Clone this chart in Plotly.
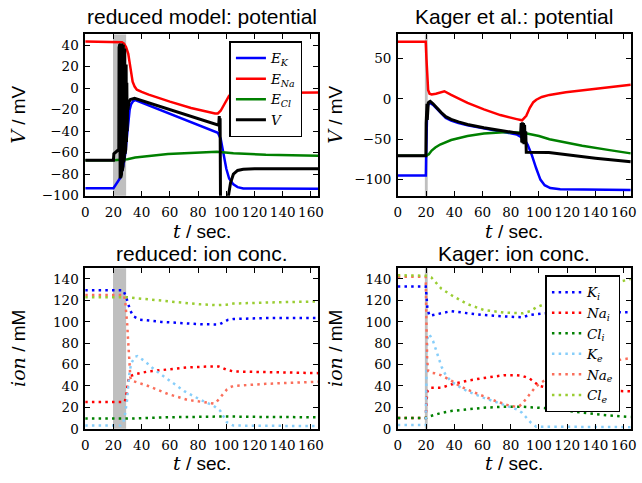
import plotly.graph_objects as go

# ---------------- data: reduced model potential (top-left) ----------------
rm_EK_t = [0, 20, 25, 27, 28.5, 29.5, 30.5, 31.5, 32.5, 34, 35.5, 94, 96, 98, 100, 102, 105, 108, 112, 165]
rm_EK = [-93, -93, -83, -72, -60, -45, -30, -20, -15, -12, -11, -41.5, -47, -60, -75, -84, -89.5, -92, -93.3, -93.5]

rm_ENa_t = [0, 23.8, 26, 27.5, 29, 30.5, 31.5, 32.5, 33.6, 35, 36.6, 40, 45, 60, 75, 92, 94, 96, 98, 100, 102, 105, 120, 165]
rm_ENa = [43.5, 43.5, 42.8, 41.5, 38, 32, 22, 13, 6, 1.5, -1.4, -3.5, -6, -12.5, -18.5, -23.5, -23.5, -21, -16, -11, -7, -5, -4.5, -4]

rm_ECl_t = [0, 20, 30, 35.4, 58.6, 81.8, 93.4, 105, 128, 165]
rm_ECl = [-67, -67, -66, -64.5, -61.3, -59.8, -59.2, -60.5, -62, -62.8]

rm_V_t = [0, 20, 20.3, 23.5, 23.8, 24.0, 24.25, 24.5, 24.75, 25.0, 25.25, 25.5, 25.75, 26.0, 26.25,
          26.5, 26.75, 27.0, 27.25, 27.5, 27.75, 28.0, 28.25, 28.5, 28.75, 29.0, 29.25, 29.5, 29.75,
          30.0, 30.3, 31, 32, 35, 94.6, 95.0, 95.3, 95.6, 95.9, 101, 101.5, 103, 105, 108, 112, 120, 165]
rm_V = [-67, -67, -61, -57, -57, 38, -75, 41, -84, 41.5, -83, 41.5, -80, 41.5, -77,
        41, -73, 40.5, -69, 39.5, -65, 37, -61, 32, -57, 22, -50, 5, -40,
        -18, -20, -13, -10.5, -9.5, -34.5, -26, -40, -28, -110, -110, -100, -88, -80, -76.5, -75.5, -75, -75]

rm_shade = [19.7, 29.0]

# ---------------- data: Kager potential (top-right) ----------------
kg_EK_t = [0, 19.9, 20.1, 20.4, 20.8, 21.5, 23, 25, 28, 30.8, 34, 37.8, 43, 49.4, 61, 72.6, 84.2, 88, 90, 92, 95, 98, 101, 104, 108, 115, 130, 165]
kg_EK = [-95, -95, -70, -35, -15, -7, -5, -7.5, -13, -18.5, -23.5, -26.8, -30, -32.8, -36.8, -40, -44, -48, -51, -57, -70, -86, -100, -107, -110.5, -112, -112.5, -113]

kg_ENa_t = [0, 19.8, 20.3, 20.8, 21.5, 22.5, 24, 27, 30, 33, 37.8, 49.4, 61, 72.6, 84.2, 88, 91, 93.5, 96, 98.1, 102, 107.4, 119, 142, 165]
kg_ENa = [71, 71, 50, 25, 11, 6.5, 5.5, 6.5, 8.5, 9.5, 5, -5, -13, -20, -25, -26.5, -21, -11, -4, -1, 2.5, 5, 8.2, 12.7, 17.5]

kg_ECl_t = [0, 20, 22, 24, 26.6, 30, 37.8, 49.4, 61, 75, 88.8, 100, 107.4, 130.6, 150, 165]
kg_ECl = [-70.5, -70.5, -68.5, -64, -60.3, -56.5, -51, -46, -43, -41.2, -42, -46, -50, -58, -63.5, -67.5]

kg_V_t = [0, 19.9, 20.1, 20.3, 20.5, 20.7, 20.9, 21.1, 21.3, 21.6, 22, 23, 25, 28, 30.8, 34, 37.8, 43,
          49.4, 61, 72.6, 84.2, 87, 87.4, 87.8, 88.2, 88.6, 89, 89.4, 89.8, 90.2, 90.6, 91, 107, 120, 140, 165]
kg_V = [-70.5, -70.5, -30, -8, -28, -6, -26, -5, -22, -5, -4, -3, -6, -12, -17, -22, -25.4, -28.5,
        -31.6, -35.7, -39, -41.8, -43, -30, -54, -29, -55, -30, -56, -32, -55, -40, -66, -66.5, -69.5, -73.5, -78]

kg_shade = [19.2, 21.2]

# ---------------- data: reduced ion conc. (bottom-left) ----------------
rc_Ki_t = [0, 27, 28.9, 30, 31.9, 34.2, 38.9, 54, 64.4, 82, 95, 97, 99, 101, 105, 128, 165]
rc_Ki = [129.5, 129.5, 123.5, 118, 110.6, 105, 102, 99.9, 99, 97.7, 97.5, 98.5, 100.2, 101.7, 102.6, 103.5, 103.5]

rc_Nai_t = [0, 28, 29, 30.3, 31.5, 35.4, 44.6, 58.6, 72.5, 86.4, 94.6, 97, 100.4, 105, 165]
rc_Nai = [25, 25, 30, 44, 49, 51, 53.6, 55.7, 57.3, 58.2, 58.2, 57, 55, 53.6, 52]

rc_Cli_t = [0, 30, 60, 90, 100, 130, 165]
rc_Cli = [9.5, 9.5, 10.8, 11.7, 11.5, 11, 10.8]

rc_Ke_t = [0, 25, 27, 28, 29.6, 30.3, 31.2, 32.6, 35.4, 37, 42.4, 49.3, 58.6, 70.2, 81.8, 91.1, 95.7, 98, 100.4, 105, 165]
rc_Ke = [3, 3, 6, 12, 26, 38, 50.6, 61.3, 67.4, 68, 63, 55, 46, 35.2, 27, 21.4, 16.8, 11.3, 6.1, 3, 2.5]

rc_Nae_t = [0, 27.5, 28.5, 29.3, 29.8, 30.3, 30.8, 31.4, 32, 33, 35.4, 44.6, 58.6, 72.5, 86.4, 91, 93, 95.7, 98, 100.4, 103, 105, 128, 165]
rc_Nae = [125, 125, 117, 108, 97, 85, 71, 57, 48, 45, 44, 40, 32.5, 27, 24.5, 23.5, 25, 29, 33, 36.7, 39, 40, 42, 44]

rc_Cle_t = [0, 30, 36.6, 51.7, 65.6, 81.8, 93.4, 100, 105, 128, 165]
rc_Cle = [123, 123, 122, 119.8, 118.3, 116.3, 115.5, 116, 117, 118, 119]

# ---------------- data: Kager ion conc. (bottom-right) ----------------
kc_Ki_t = [0, 19.8, 20.3, 21, 22.5, 30.8, 37.8, 49.4, 61, 75, 84.2, 88, 93.4, 104, 130, 165]
kc_Ki = [133, 133, 125, 112, 105.5, 108, 110, 108, 106.3, 105, 104, 104.2, 106.3, 108, 109, 109]

kc_Nai_t = [0, 19.8, 20.3, 21, 23, 30.8, 37.8, 49.4, 61, 75, 84.2, 88, 93.4, 100.4, 110, 130, 165]
kc_Nai = [10, 10, 25, 35, 38.3, 38.3, 41.4, 45, 47.5, 50, 50, 49.5, 47, 40, 37, 36, 35]

kc_Cli_t = [0, 19.8, 21, 23.7, 30, 37.8, 49.4, 61, 75, 88.8, 107.4, 113.6, 130, 145, 165]
kc_Cli = [10, 10, 11, 12, 14.5, 16.6, 18.2, 19.7, 20.6, 20.6, 19, 17.7, 15.2, 13, 11]

kc_Ke_t = [0, 19.8, 20.2, 20.6, 21.3, 22.5, 25, 28, 31, 34, 38, 44, 49.4, 61, 75, 84.2, 88, 91.1, 94, 98, 165]
kc_Ke = [3.5, 3.5, 40, 75, 88, 88, 82, 70, 58, 50, 44, 39, 35, 28.9, 22.8, 18.2, 15, 10.5, 6, 2, 1.5]

kc_Nae_t = [0, 19.8, 20.3, 20.8, 21.5, 23, 26, 30.8, 37.8, 44, 49.4, 61, 70, 79.6, 84.2, 86, 88.8, 93.4, 98, 103, 110, 130, 150, 165]
kc_Nae = [142, 142, 100, 65, 54, 52.5, 52, 50, 45, 40, 36.5, 30.5, 25.5, 21.4, 20.5, 21, 24.5, 32.2, 39.8, 44.4, 50, 58, 63, 66]

kc_Cle_t = [0, 19.8, 21, 23.7, 30.8, 37.8, 49.4, 61, 75, 88.8, 94, 98, 104, 120, 140, 165]
kc_Cle = [143.5, 143.5, 143, 141.5, 131, 125, 116.5, 111, 108.6, 108, 110, 113.4, 116.5, 124, 132, 140]

x_ticks = [0, 20, 40, 60, 80, 100, 120, 140, 160]
y_ticks_rm = [-100, -80, -60, -40, -20, 0, 20, 40]
y_ticks_kg = [-100, -50, 0, 50]
y_ticks_conc = [0, 20, 40, 60, 80, 100, 120, 140]

titles = ["reduced model: potential", "Kager et al.: potential", "reduced: ion conc.", "Kager: ion conc."]

# ---------------- figure ----------------
W, H = 642, 483
fig = go.Figure()

C_K, C_NA, C_CL = "#0000ff", "#ff0000", "#008000"
C_KE, C_NAE, C_CLE = "#87cefa", "#fa6e5a", "#9acd32"
DOT = "2.5px,4.2px"

def line(x, y, color, name, ax, width=2.5, dash=None, legend=None):
    show = legend is not None
    fig.add_trace(go.Scatter(
        x=x, y=y, mode="lines", name=name,
        line=dict(color=color, width=width, dash=dash),
        xaxis="x" + ax, yaxis="y" + ax,
        showlegend=show, legend=legend if show else "legend",
        hoverinfo="skip"))

# top-left
line(rm_EK_t, rm_EK, C_K, "<i>E<sub>K</sub></i>", "", legend="legend")
line(rm_ENa_t, rm_ENa, C_NA, "<i>E<sub>Na</sub></i>", "", legend="legend")
line(rm_ECl_t, rm_ECl, C_CL, "<i>E<sub>Cl</sub></i>", "", legend="legend")
line(rm_V_t, rm_V, "black", "<i>V</i>", "", width=3, legend="legend")
# top-right
line(kg_EK_t, kg_EK, C_K, "EK", "2")
line(kg_ENa_t, kg_ENa, C_NA, "ENa", "2")
line(kg_ECl_t, kg_ECl, C_CL, "ECl", "2")
line(kg_V_t, kg_V, "black", "V", "2", width=3)
# bottom-left
line(rc_Ki_t, rc_Ki, C_K, "Ki", "3", dash=DOT)
line(rc_Nai_t, rc_Nai, C_NA, "Nai", "3", dash=DOT)
line(rc_Cli_t, rc_Cli, C_CL, "Cli", "3", dash=DOT)
line(rc_Ke_t, rc_Ke, C_KE, "Ke", "3", dash=DOT)
line(rc_Nae_t, rc_Nae, C_NAE, "Nae", "3", dash=DOT)
line(rc_Cle_t, rc_Cle, C_CLE, "Cle", "3", dash=DOT)
# bottom-right
line(kc_Ki_t, kc_Ki, C_K, "<i>K<sub>i</sub></i>", "4", dash=DOT, legend="legend2")
line(kc_Nai_t, kc_Nai, C_NA, "<i>Na<sub>i</sub></i>", "4", dash=DOT, legend="legend2")
line(kc_Cli_t, kc_Cli, C_CL, "<i>Cl<sub>i</sub></i>", "4", dash=DOT, legend="legend2")
line(kc_Ke_t, kc_Ke, C_KE, "<i>K<sub>e</sub></i>", "4", dash=DOT, legend="legend2")
line(kc_Nae_t, kc_Nae, C_NAE, "<i>Na<sub>e</sub></i>", "4", dash=DOT, legend="legend2")
line(kc_Cle_t, kc_Cle, C_CLE, "<i>Cl<sub>e</sub></i>", "4", dash=DOT, legend="legend2")

# domains (pixel -> paper)
def px(x):
    return x / W

def py(y):
    return 1 - y / H

XL = [px(82.5), px(319)]
XR = [px(400), px(636.7)]
YT = [py(199), py(35)]
YB = [py(436), py(272.8)]

tickfont = dict(family="DejaVu Serif", size=13.5, color="black")

def xax(domain, anchor):
    return dict(domain=domain, anchor=anchor, range=[0, 165], tickvals=x_ticks, tickangle=0,
                showline=True, linecolor="black", linewidth=1.5, mirror="allticks",
                ticks="inside", ticklen=5, tickwidth=1, tickcolor="black", ticklabelstandoff=3,
                showgrid=False, zeroline=False, tickfont=tickfont)

def yax(domain, anchor, rng, tv):
    return dict(domain=domain, anchor=anchor, range=rng, tickvals=tv,
                showline=True, linecolor="black", linewidth=1.5, mirror="allticks",
                ticks="inside", ticklen=5, tickwidth=1, tickcolor="black", ticklabelstandoff=2,
                showgrid=False, zeroline=False, tickfont=tickfont)

shapes = []
for xr, ax in [(rm_shade, "x"), (kg_shade, "x2"), (rm_shade, "x3"), (kg_shade, "x4")]:
    ya = "y" + ax[1:]
    shapes.append(dict(type="rect", xref=ax, yref=ya + " domain", x0=xr[0], x1=xr[1], y0=0, y1=1,
                       fillcolor="#bfbfbf", line=dict(width=0), layer="below"))

SERIF = 'font-family:DejaVu Serif'
ylab = '<span style="%s"><i>V</i></span> / mV' % SERIF
ylab_c = '<span style="%s"><i>ion</i></span> / mM' % SERIF
xlab = '<span style="%s"><i>t</i></span> / sec.' % SERIF

annots = []
tfont = dict(family="Liberation Sans", size=21, color="black")
lfont = dict(family="Liberation Sans", size=19, color="black")
for txt, cx, cy in [(titles[0], 200.7, 17), (titles[1], 518.3, 17), (titles[2], 200.7, 258), (titles[3], 518.3, 258)]:
    annots.append(dict(text=txt, x=px(cx), y=py(cy), xref="paper", yref="paper", showarrow=False,
                       xanchor="center", yanchor="middle", font=tfont))
for txt, cx, cy in [(ylab, 14, 117), (ylab, 336, 117), (ylab_c, 14, 354), (ylab_c, 336, 354)]:
    annots.append(dict(text=txt, x=px(cx), y=py(cy), xref="paper", yref="paper", showarrow=False,
                       xanchor="center", yanchor="middle", textangle=-90, font=lfont))
for txt, cx, cy in [(xlab, 200.7, 235), (xlab, 518.3, 235), (xlab, 200.7, 471), (xlab, 518.3, 471)]:
    annots.append(dict(text=txt, x=px(cx), y=py(cy), xref="paper", yref="paper", showarrow=False,
                       xanchor="center", yanchor="middle", font=lfont))

legfont = dict(family="DejaVu Serif", size=13.5, color="black")
fig.update_layout(
    width=W, height=H, autosize=False,
    margin=dict(l=0, r=0, t=0, b=0),
    paper_bgcolor="white", plot_bgcolor="white",
    xaxis=xax(XL, "y"), yaxis=yax(YT, "x", [-100, 50], y_ticks_rm),
    xaxis2=xax(XR, "y2"), yaxis2=yax(YT, "x2", [-120, 80], y_ticks_kg),
    xaxis3=xax(XL, "y3"), yaxis3=yax(YB, "x3", [0, 150], y_ticks_conc),
    xaxis4=xax(XR, "y4"), yaxis4=yax(YB, "x4", [0, 150], y_ticks_conc),
    shapes=shapes, annotations=annots,
    legend=dict(x=px(229), xanchor="left", y=py(42), yanchor="top", bgcolor="white",
                bordercolor="black", borderwidth=1.5, font=legfont),
    legend2=dict(x=px(550), xanchor="left", y=py(280), yanchor="top", bgcolor="white",
                 bordercolor="black", borderwidth=1.5, font=legfont),
    showlegend=True,
)

fig.write_html("out.html", config={"displayModeBar": False},
               post_script="document.body.style.margin='0px';document.body.style.overflow='hidden';")
